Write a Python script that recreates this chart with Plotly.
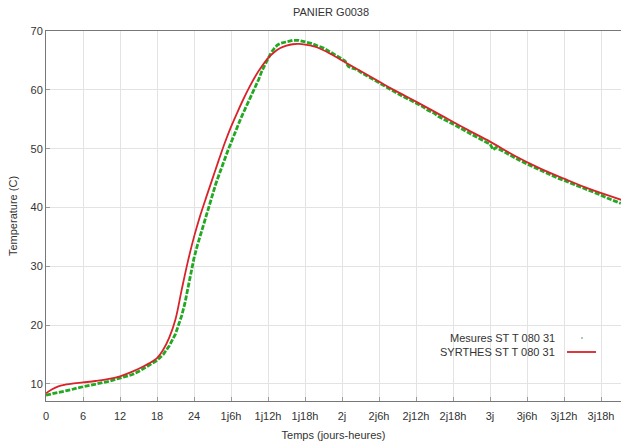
import plotly.graph_objects as go

# Simulated temperature (SYRTHES), hours vs degrees C
sim_hours = [0, 1, 2, 3, 4, 6, 8, 10, 12, 14, 16, 18, 19, 20, 21, 22, 23, 24, 25, 26,
             27, 28, 29, 30, 31, 32, 33, 34, 35, 36, 37, 38, 39, 40, 41, 42, 43, 44,
             46, 48, 50, 52, 54, 56, 58, 60, 64, 68, 72, 76, 80, 84, 88, 93.3]
sim_temp = [8.4, 9.1, 9.6, 9.85, 10.0, 10.25, 10.5, 10.8, 11.3, 12.1, 13.1, 14.4, 15.8,
            17.9, 21.0, 26.0, 30.8, 35.0, 38.6, 41.8, 44.9, 48.0, 51.0, 53.7, 56.1,
            58.4, 60.5, 62.4, 64.0, 65.4, 66.4, 67.1, 67.5, 67.75, 67.8, 67.7, 67.5,
            67.2, 66.2, 65.0, 63.8, 62.6, 61.4, 60.2, 59.1, 58.0, 55.7, 53.4, 51.2,
            48.8, 46.7, 44.9, 43.2, 41.3]

# Measured temperature (probe ST T 080 31)
meas_hours = [0, 1, 2, 3, 4, 5, 6, 7, 8, 9, 10, 11, 12, 13, 14, 15, 16, 17, 18, 19,
              20, 21, 22, 22.5, 23, 23.5, 24, 24.5, 25, 25.5, 26, 26.5, 27, 27.5, 28,
              28.5, 29, 29.5, 30, 30.5, 31, 31.5, 32, 32.5, 33, 33.5, 34, 34.5, 35,
              35.5, 36, 36.5, 37, 37.5, 38, 39, 40, 41, 42, 43, 44, 45, 46, 47, 48,
              48.5, 49, 49.5, 50, 50.5, 51, 52, 53, 54, 55, 56, 57, 58, 59, 60, 61,
              62, 63, 63.6, 64, 65, 66, 67, 68, 69, 70, 71, 72, 72.5, 73, 74, 75, 76,
              77, 78, 79, 80, 81, 82, 83, 84, 85, 86, 87, 88, 89, 90, 91, 92, 93.2]
meas_temp = [8.1, 8.3, 8.5, 8.8, 9.0, 9.3, 9.5, 9.8, 10.0, 10.2, 10.4, 10.7, 11.0, 11.3,
             11.6, 12.1, 12.7, 13.3, 14.0, 15.0, 16.5, 18.5, 21.6, 23.6, 26.2, 29.2,
             31.4, 33.4, 35.2, 37.0, 38.8, 40.6, 42.3, 43.9, 45.4, 46.9, 48.3, 49.7,
             51.0, 52.4, 53.7, 54.9, 56.1, 57.2, 58.4, 59.5, 60.6, 61.8, 63.2, 64.3,
             65.4, 66.3, 67.0, 67.6, 67.9, 68.2, 68.4, 68.4, 68.2, 67.9, 67.5, 67.1,
             66.5, 65.9, 65.2, 64.9, 64.0, 63.7, 63.6, 63.4, 63.0, 62.4, 61.8, 61.1,
             60.5, 59.9, 59.3, 58.8, 58.3, 57.8, 57.2, 56.5, 56.0, 55.5, 55.3, 54.8,
             54.2, 53.6, 53.0, 52.5, 51.9, 51.3, 50.8, 49.8, 50.2, 49.6, 49.0, 48.4,
             47.9, 47.4, 46.9, 46.4, 45.9, 45.5, 45.0, 44.6, 44.2, 43.8, 43.4, 42.9,
             42.5, 42.1, 41.6, 41.2, 40.7]

# Axis ticks: every 6 hours
tick_hours = [0, 6, 12, 18, 24, 30, 36, 42, 48, 54, 60, 66, 72, 78, 84, 90]
tick_labels = ["0", "6", "12", "18", "24", "1j6h", "1j12h", "1j18h", "2j", "2j6h",
               "2j12h", "2j18h", "3j", "3j6h", "3j12h", "3j18h"]
temp_ticks = [10, 20, 30, 40, 50, 60, 70]

meas_name = "Mesures ST T 080 31"
sim_name = "SYRTHES ST T 080 31"

GREEN = "#22a822"
RED = "#d8232a"
TEXT = "#333333"
FONT = "Liberation Sans, Arial, sans-serif"

W, H = 621, 444
ML, MR, MT, MB = 46, 0, 31, 43
PW, PH = W - ML - MR, H - MT - MB


def px_x(px):
    return (px - ML) / PW


def px_y(py):
    return (H - MB - py) / PH


fig = go.Figure()

fig.add_trace(go.Scatter(
    x=meas_hours, y=meas_temp, mode="lines", name=meas_name,
    line=dict(color=GREEN, width=2.8, dash="5px,1.6px"),
))
fig.add_trace(go.Scatter(
    x=sim_hours, y=sim_temp, mode="lines", name=sim_name,
    line=dict(color=RED, width=1.8, shape="spline", smoothing=1.0),
))

# key in the lower right: labels right-aligned, sample marks after them
key_right = px_x(557)
key_rows = [px_y(338), px_y(352)]
annotations = [
    dict(text=meas_name, x=key_right, y=key_rows[0], xref="paper", yref="paper",
         xanchor="right", yanchor="middle", showarrow=False,
         font=dict(size=11, color=TEXT)),
    dict(text=sim_name, x=key_right, y=key_rows[1], xref="paper", yref="paper",
         xanchor="right", yanchor="middle", showarrow=False,
         font=dict(size=11, color=TEXT)),
]
dot_r = 1.0
shapes = [
    dict(type="circle", xref="paper", yref="paper",
         x0=px_x(582 - dot_r), x1=px_x(582 + dot_r),
         y0=px_y(338 + dot_r), y1=px_y(338 - dot_r),
         fillcolor="#8fbf8f", line=dict(width=0)),
    dict(type="line", xref="paper", yref="paper",
         x0=px_x(567), x1=px_x(596), y0=key_rows[1], y1=key_rows[1],
         line=dict(color=RED, width=1.8)),
]

fig.update_layout(
    width=W, height=H,
    margin=dict(l=ML, r=MR, t=MT, b=MB),
    paper_bgcolor="white", plot_bgcolor="white",
    font=dict(family=FONT, size=11, color=TEXT),
    title=dict(text="PANIER G0038", x=0.533, xanchor="center", y=0.973, yanchor="middle",
               font=dict(size=11, color=TEXT)),
    showlegend=False,
    annotations=annotations,
    shapes=shapes,
)
fig.update_xaxes(
    range=[0, 93.24], tickvals=tick_hours, ticktext=tick_labels,
    showgrid=True, gridcolor="#e3e3e3", gridwidth=1,
    showline=True, linecolor="#777777", linewidth=1, mirror=True,
    ticks="inside", ticklen=4, tickcolor="#999999", zeroline=False,
    ticklabelstandoff=5,
    title=dict(text="Temps (jours-heures)", standoff=10, font=dict(size=11)),
)
fig.update_yaxes(
    range=[7.1, 70], tickvals=temp_ticks,
    showgrid=True, gridcolor="#e3e3e3", gridwidth=1,
    showline=True, linecolor="#777777", linewidth=1,
    ticks="inside", ticklen=4, tickcolor="#999999", zeroline=False,
    title=dict(text="Temperature (C)", standoff=10, font=dict(size=11)),
)

fig.write_html("out.html")
